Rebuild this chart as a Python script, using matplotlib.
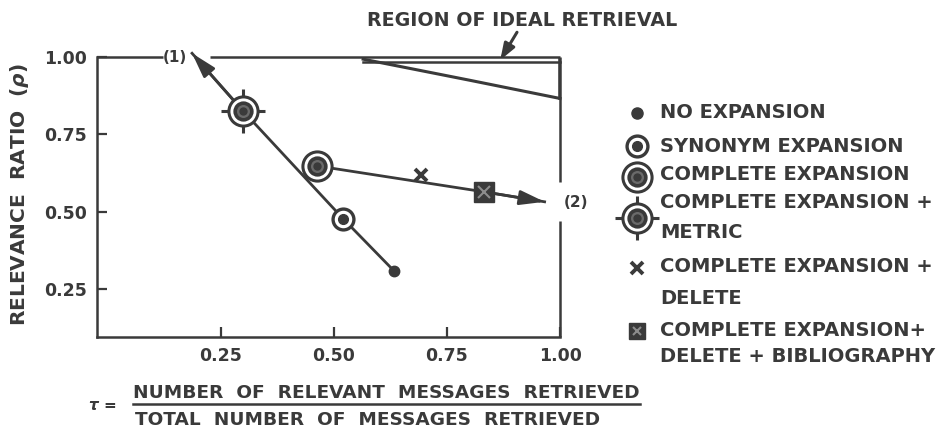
import matplotlib.pyplot as plt

INK = '#3a3a3a'
W, H = 942, 434

# axis ticks
x_ticks = [0.25, 0.50, 0.75, 1.00]
y_ticks = [0.25, 0.50, 0.75, 1.00]
tick_labels = ['0.25', '0.50', '0.75', '1.00']

# points (tau, rho)
no_expansion = [0.633, 0.309]
synonym_expansion = [0.521, 0.477]
complete_expansion = [0.463, 0.648]
complete_metric = [0.300, 0.825]
complete_delete = [0.692, 0.618]
complete_delete_bib = [0.833, 0.564]

# the two curves, (1) and (2), each ending in an arrow head
curve1_tau = [0.633, 0.521, 0.300, 0.187]
curve1_rho = [0.309, 0.477, 0.825, 1.012]
curve2_tau = [0.463, 0.833, 0.966]
curve2_rho = [0.648, 0.564, 0.532]

# region of ideal retrieval (thin wedge under rho = 1)
ideal_tau = [0.565, 0.80, 1.00]
ideal_rho_low = [0.993, 0.925, 0.866]
ideal_rho_inner = 0.984

legend_labels = [
    ['NO EXPANSION'],
    ['SYNONYM EXPANSION'],
    ['COMPLETE EXPANSION'],
    ['COMPLETE EXPANSION +', 'METRIC'],
    ['COMPLETE EXPANSION +', 'DELETE'],
    ['COMPLETE EXPANSION+', 'DELETE + BIBLIOGRAPHY'],
]


def mark_dot(ax, x, y, ms=7.5):
    ax.plot(x, y, 'o', ms=ms, color=INK, zorder=6, clip_on=False)


def mark_synonym(ax, x, y):
    ax.plot(x, y, 'o', ms=15, mfc='white', mec=INK, mew=2.4, zorder=6, clip_on=False)
    ax.plot(x, y, 'o', ms=7, color=INK, zorder=7, clip_on=False)


def mark_complete(ax, x, y, metric=False):
    if metric:
        ax.plot(x, y, '+', ms=32, mew=2.2, color=INK, zorder=5, clip_on=False)
    ax.plot(x, y, 'o', ms=21, mfc='white', mec=INK, mew=2.2, zorder=6, clip_on=False)
    ax.plot(x, y, 'o', ms=12, mfc='#6a6a6a', mec=INK, mew=2.6, zorder=7, clip_on=False)
    ax.plot(x, y, 'o', ms=5, color=INK, zorder=8, clip_on=False)


def mark_delete(ax, x, y, ms=9):
    ax.plot(x, y, 'x', ms=ms, mew=2.8, color=INK, zorder=6, clip_on=False)


def mark_bib(ax, x, y, ms=14):
    ax.plot(x, y, 's', ms=ms, color=INK, zorder=6, clip_on=False)
    ax.plot(x, y, 'x', ms=ms * 0.55, mew=1.5, color='#8c8c8c', zorder=7, clip_on=False)


plt.rcParams['font.family'] = 'DejaVu Sans'
plt.rcParams['font.weight'] = 'bold'

fig = plt.figure(figsize=(W / 100, H / 100), dpi=100, facecolor='white')
ax = fig.add_axes([97 / W, 1 - 337 / H, 463 / W, 280 / H])
ax.set_xlim(-0.023, 1.0)
ax.set_ylim(0.095, 1.0)

# frame: left/bottom as spines, top/right drawn by hand with gaps for the labels
for side in ['top', 'right']:
    ax.spines[side].set_visible(False)
for side in ['left', 'bottom']:
    ax.spines[side].set_linewidth(1.8)
    ax.spines[side].set_color(INK)
ax.plot([0, 0.1425], [1, 1], transform=ax.transAxes, color=INK, lw=1.8, clip_on=False, solid_capstyle='butt')
ax.plot([0.244, 1], [1, 1], transform=ax.transAxes, color=INK, lw=1.8, clip_on=False, solid_capstyle='butt')
ax.plot([1, 1], [1, 0.555], transform=ax.transAxes, color=INK, lw=1.8, clip_on=False, solid_capstyle='butt')
ax.plot([1, 1], [0.415, 0], transform=ax.transAxes, color=INK, lw=1.8, clip_on=False, solid_capstyle='butt')

ax.set_xticks(x_ticks)
ax.set_xticklabels(tick_labels)
ax.set_yticks(y_ticks)
ax.set_yticklabels(tick_labels)
ax.tick_params(direction='in', length=7, width=1.6, color=INK, labelcolor=INK,
               labelsize=12.5, pad=7)

# region of ideal retrieval
ax.plot(ideal_tau, ideal_rho_low, color=INK, lw=2.2, zorder=3, clip_on=False)
ax.plot([ideal_tau[0], ideal_tau[-1]], [ideal_rho_inner, ideal_rho_inner], color=INK, lw=1.8,
        zorder=3, clip_on=False)
ax.plot([ideal_tau[-1], ideal_tau[-1]], [1.0, ideal_rho_low[-1]], color=INK, lw=2.6, zorder=3)
ax.annotate('', xy=(0.868, 0.99), xytext=(0.905, 1.08), annotation_clip=False,
            arrowprops=dict(arrowstyle='-|>,head_length=0.7,head_width=0.25', mutation_scale=14,
                            color=INK, lw=2.2, shrinkA=0, shrinkB=0))

# curves with arrow heads
ax.plot(curve1_tau, curve1_rho, color=INK, lw=2.0, zorder=4, clip_on=False)
ax.plot(curve2_tau, curve2_rho, color=INK, lw=2.0, zorder=4, clip_on=False)
for tau, rho in [(curve1_tau, curve1_rho), (curve2_tau, curve2_rho)]:
    ax.annotate('', xy=(tau[-1], rho[-1]), xytext=(tau[-2], rho[-2]), annotation_clip=False,
                arrowprops=dict(arrowstyle='-|>,head_length=0.75,head_width=0.22',
                                mutation_scale=20, color=INK, lw=2.0, shrinkA=0, shrinkB=0))
ax.text(0.149, 1.0, '(1)', ha='center', va='center', fontsize=11, color=INK)
ax.text(1.008, 0.53, '(2)', ha='left', va='center', fontsize=11, color=INK)

# the measured points
mark_dot(ax, *no_expansion)
mark_synonym(ax, *synonym_expansion)
mark_complete(ax, *complete_expansion)
mark_complete(ax, *complete_metric, metric=True)
mark_delete(ax, *complete_delete)
mark_bib(ax, *complete_delete_bib, ms=15)

# overlay in pixel coordinates for the lettering and the key
lax = fig.add_axes([0, 0, 1, 1])
lax.set_xlim(0, W)
lax.set_ylim(H, 0)
lax.axis('off')

lax.text(522, 20, 'REGION OF IDEAL RETRIEVAL', ha='center', va='center', fontsize=13.7, color=INK)
lax.text(20, 195, 'RELEVANCE  RATIO  ($\\rho$)', rotation=90, ha='center', va='center',
         fontsize=14.5, color=INK)
lax.text(88, 405, '$\\tau$ =', ha='left', va='center', fontsize=11, color=INK)
lax.text(133, 393, 'NUMBER  OF  RELEVANT  MESSAGES  RETRIEVED', ha='left', va='center',
         fontsize=13.3, color=INK)
lax.plot([133, 640], [404, 404], color=INK, lw=1.8)
lax.text(135, 420, 'TOTAL  NUMBER  OF  MESSAGES  RETRIEVED', ha='left', va='center',
         fontsize=13.3, color=INK)

# key
marker_x, text_x = 637, 660
row_y = [[113], [146], [175], [203, 233], [267, 298], [330, 357]]
mark_dot(lax, marker_x, 113, ms=8)
mark_synonym(lax, marker_x, 146)
mark_complete(lax, marker_x, 177)
mark_complete(lax, marker_x, 218, metric=True)
mark_delete(lax, marker_x, 268, ms=9)
mark_bib(lax, marker_x, 331, ms=11)
for lines, ys in zip(legend_labels, row_y):
    for line, y in zip(lines, ys):
        lax.text(text_x, y, line, ha='left', va='center', fontsize=14, color=INK)

fig.savefig('out.png', dpi=100, facecolor='white')
